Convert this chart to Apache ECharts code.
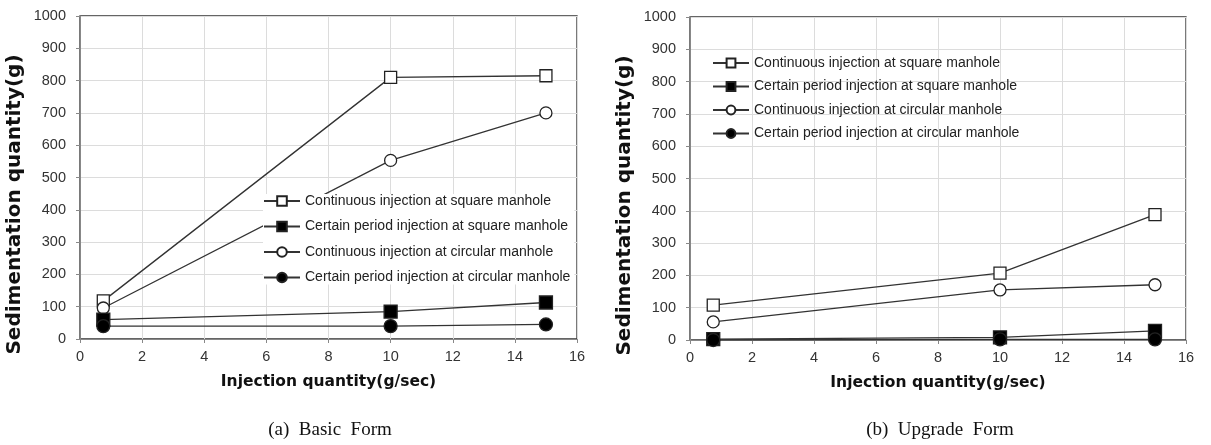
<!DOCTYPE html>
<html><head><meta charset="utf-8">
<script src="https://cdn.jsdelivr.net/npm/echarts@6/dist/echarts.min.js"></script>
<style>html,body{margin:0;padding:0;background:#fff}#c{width:1211px;height:445px}</style>
</head><body><div id="c"></div>
<script>
const seriesNames = [
  'Continuous injection at square manhole',
  'Certain period injection at square manhole',
  'Continuous injection at circular manhole',
  'Certain period injection at circular manhole'
];
const xValues = [0.75, 10, 15];
// (a) Basic Form
const basicContSquare = [118, 810, 815];
const basicPeriodSquare = [60, 85, 113];
const basicContCircle = [96, 553, 700];
const basicPeriodCircle = [40, 40, 45];
// (b) Upgrade Form
const upContSquare = [108, 207, 388];
const upPeriodSquare = [3, 8, 28];
const upContCircle = [56, 155, 171];
const upPeriodCircle = [0, 2, 2];
const captions = ['(a)  Basic  Form', '(b)  Upgrade  Form'];
const xAxisTitle = 'Injection quantity(g/sec)';
const yAxisTitle = 'Sedimentation quantity(g)';

const styles = [
  {symbol: 'rect', fill: '#fff'},
  {symbol: 'rect', fill: '#000'},
  {symbol: 'circle', fill: '#fff'},
  {symbol: 'circle', fill: '#000'}
];
function pts(vals){ return xValues.map((x,i)=>[x, vals[i]]); }
function mk(name, vals, idx, gi){
  const s = styles[idx];
  return {
    name: name, type: 'line', xAxisIndex: gi, yAxisIndex: gi,
    data: pts(vals), symbol: s.symbol, symbolSize: s.fill === '#000' ? 13 : 12,
    showSymbol: true,
    lineStyle: {color: '#333', width: 1.3},
    itemStyle: {color: s.fill, borderColor: '#222', borderWidth: 1.3},
    emphasis: {disabled: true}, animation: false, z: idx === 1 || idx === 3 ? 3 : 2
  };
}
const basicSets = [basicContSquare, basicPeriodSquare, basicContCircle, basicPeriodCircle];
const upSets = [upContSquare, upPeriodSquare, upContCircle, upPeriodCircle];
const series = [];
basicSets.forEach((v,i)=>series.push(mk(seriesNames[i], v, i, 0)));
upSets.forEach((v,i)=>series.push(mk(seriesNames[i], v, i, 1)));

function xAx(gi){
  return {
    type: 'value', gridIndex: gi, min: 0, max: 16, interval: 2,
    name: xAxisTitle, nameLocation: 'middle', nameGap: 35,
    nameTextStyle: {fontFamily: 'DejaVu Sans', fontWeight: 'bold', fontSize: 15.5, color: '#111'},
    axisLine: {lineStyle: {color: '#888', width: 1}},
    axisTick: {show: true, length: 4, lineStyle: {color: '#888'}},
    axisLabel: {fontFamily: 'Liberation Sans', fontSize: 14.5, color: '#333', margin: 10},
    splitLine: {show: true, lineStyle: {color: '#dcdcdc', width: 1}}
  };
}
function yAx(gi){
  return {
    type: 'value', gridIndex: gi, min: 0, max: 1000, interval: 100,
    name: yAxisTitle, nameLocation: 'middle', nameGap: 55, nameRotate: 90,
    nameTextStyle: {fontFamily: 'DejaVu Sans', fontWeight: 'bold', fontSize: 20, color: '#111', padding: [0, 54, 0, 0]},
    axisLine: {show: true, lineStyle: {color: '#888', width: 1}},
    axisTick: {show: true, length: 4, lineStyle: {color: '#888'}},
    axisLabel: {fontFamily: 'Liberation Sans', fontSize: 14.5, color: '#333', margin: 14, formatter: v => String(v)},
    splitLine: {show: true, lineStyle: {color: '#dcdcdc', width: 1}}
  };
}
const legendText = {fontFamily: 'Liberation Sans', fontSize: 14, color: '#222', lineHeight: 14};
const option = {
  animation: false,
  backgroundColor: '#fff',
  grid: [
    {left: 80, top: 16, width: 497, height: 323, show: true, borderColor: '#333', borderWidth: 1.3, backgroundColor: 'transparent'},
    {left: 690, top: 17, width: 496, height: 323, show: true, borderColor: '#333', borderWidth: 1.3, backgroundColor: 'transparent'}
  ],
  xAxis: [xAx(0), xAx(1)],
  yAxis: [yAx(0), yAx(1)],
  legend: [
    {data: seriesNames, orient: 'vertical', left: 263, top: 194, itemWidth: 36, itemHeight: 12, itemGap: 11.5,
     textStyle: legendText, backgroundColor: '#fff', padding: [0,4,0,0], selectedMode: false},
    {data: seriesNames, orient: 'vertical', left: 712, top: 56, itemWidth: 36, itemHeight: 11, itemGap: 9.5,
     textStyle: legendText, backgroundColor: 'transparent', padding: 0, selectedMode: false}
  ],
  series: series,
  graphic: [
    {type: 'text', x: 330, y: 430, style: {text: captions[0], font: '19px "Liberation Serif"', fill: '#111', textAlign: 'center', textVerticalAlign: 'middle'}},
    {type: 'text', x: 940, y: 430, style: {text: captions[1], font: '19px "Liberation Serif"', fill: '#111', textAlign: 'center', textVerticalAlign: 'middle'}}
  ]
};
const chart = echarts.init(document.getElementById('c'), null, {renderer: 'canvas'});
chart.setOption(option);
</script></body></html>
